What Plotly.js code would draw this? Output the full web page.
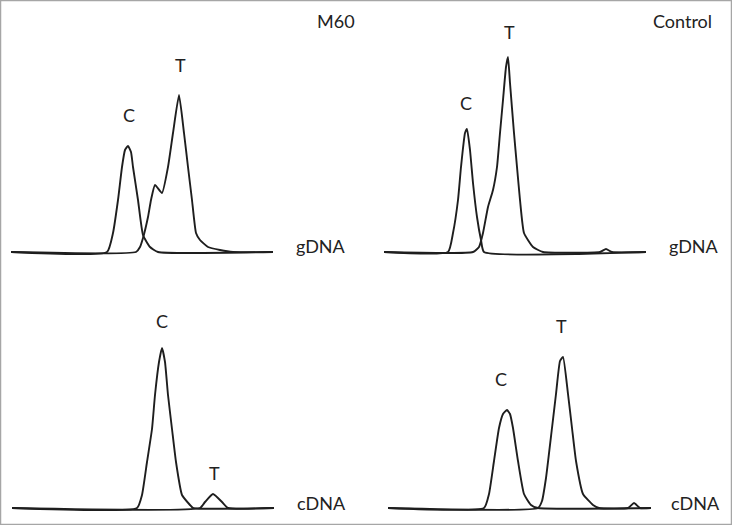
<!DOCTYPE html>
<html>
<head>
<meta charset="utf-8">
<script src="https://cdn.plot.ly/plotly-3.0.1.min.js"></script>
<style>html,body{margin:0;padding:0;background:#fff;}#chart{width:732px;height:525px;}</style>
</head>
<body>
<div id="chart"></div>
<script>
// Panel names and baseline labels
const panelNames = ["M60", "Control", "", ""];
const sampleLabels = ["gDNA", "gDNA", "cDNA", "cDNA"];
const peakLabels = ["C", "T"];

// Signal traces (retention position, intensity above baseline)
// Top-left: M60 gDNA
const m60g_C_x = [0, 96, 102, 107, 111, 114, 117, 120, 122, 127, 132, 139, 147, 262];
const m60g_C_y = [0, 0, 19, 52, 85, 102, 106, 100, 85, 52, 17, 5, 0, 0];
const m60g_T_x = [0, 125, 129, 132, 137, 140, 144, 151, 157, 162, 168, 173, 177, 181, 185, 189, 197, 209, 222, 262];
const m60g_T_y = [0, 0, 5, 14, 35, 52, 67, 59, 85, 119, 157, 119, 85, 52, 19, 12, 5, 2, 0, 0];
// Top-right: Control gDNA
const ctlg_C_x = [0, 64, 69, 74, 77, 81, 83, 86, 89, 93, 97, 100, 262];
const ctlg_C_y = [0, 0, 19, 52, 85, 119, 123, 102, 69, 35, 12, 0, 0];
const ctlg_T_x = [0, 89, 95, 99, 104, 109, 113, 116, 119, 122, 124, 126, 130, 133, 136, 140, 149, 159, 216, 222, 228, 262];
const ctlg_T_y = [0, 0, 5, 19, 45, 62, 85, 119, 152, 185, 195, 169, 119, 85, 52, 19, 5, 0, 0, 3, 0, 0];
// Bottom-left: M60 cDNA
const m60c_C_x = [0, 125, 130, 135, 140, 143, 147, 150, 153, 156, 160, 164, 170, 178, 181, 262];
const m60c_C_y = [0, 0, 13, 46, 79, 113, 146, 160, 146, 113, 79, 46, 13, 3, 0, 0];
const m60c_T_x = [0, 188, 193, 201, 210, 216, 262];
const m60c_T_y = [0, 0, 6, 14, 6, 0, 0];
// Bottom-right: Control cDNA
const ctlc_C_x = [0, 96, 101, 106, 111, 115, 119, 122, 125, 130, 136, 143, 150, 263];
const ctlc_C_y = [0, 0, 14, 47, 80, 94, 98, 94, 80, 47, 14, 3, 0, 0];
const ctlc_T_x = [0, 150, 154, 158, 164, 168, 172, 175, 180, 184, 188, 195, 205, 211, 240, 246, 252, 263];
const ctlc_T_y = [0, 0, 7, 30, 80, 114, 147, 151, 114, 80, 47, 14, 3, 0, 0, 5, 0, 0];

// Label anchor positions (axis units)
const peakLabelPos = [
  [[118, 137], [169, 187]],
  [[82, 149], [125, 220]],
  [[150, 187], [202, 35]],
  [[113, 129], [173, 182]]
];

const W = 732, H = 525;
// panel pixel geometry: left x, baseline y
const panels = [
  {x0: 11, base: 252},
  {x0: 384, base: 252},
  {x0: 12, base: 508},
  {x0: 388, base: 508}
];
const PW = 263, PH = 250, PAD = 6;

const lineStyle = {color: "#1e1e1e", width: 1.9};
const series = [
  [[m60g_C_x, m60g_C_y], [m60g_T_x, m60g_T_y]],
  [[ctlg_C_x, ctlg_C_y], [ctlg_T_x, ctlg_T_y]],
  [[m60c_C_x, m60c_C_y], [m60c_T_x, m60c_T_y]],
  [[ctlc_C_x, ctlc_C_y], [ctlc_T_x, ctlc_T_y]]
];

const traces = [];
const layout = {
  width: W, height: H,
  margin: {l: 0, r: 0, t: 0, b: 0},
  paper_bgcolor: "#fff", plot_bgcolor: "rgba(0,0,0,0)",
  showlegend: false,
  font: {family: "Lato, 'Open Sans', sans-serif", size: 18, color: "#222"},
  annotations: [],
  shapes: [{type: "rect", xref: "paper", yref: "paper", x0: 0, x1: 1, y0: 0, y1: 1,
            line: {color: "#a6a6a6", width: 2.5}}]
};

panels.forEach((p, i) => {
  const sfx = i === 0 ? "" : String(i + 1);
  series[i].forEach(s => {
    traces.push({x: s[0], y: s[1], type: "scatter", mode: "lines",
      line: Object.assign({shape: "spline", smoothing: 0.45}, lineStyle),
      xaxis: "x" + sfx, yaxis: "y" + sfx, hoverinfo: "skip"});
  });
  const ax = {domain: [p.x0 / W, (p.x0 + PW) / W], range: [0, PW], visible: false, fixedrange: true};
  const ay = {domain: [(H - p.base - PAD) / H, (H - p.base + PH) / H], range: [-PAD, PH], visible: false, fixedrange: true};
  ax.anchor = "y" + sfx; ay.anchor = "x" + sfx;
  layout["xaxis" + sfx] = ax;
  layout["yaxis" + sfx] = ay;
  peakLabels.forEach((lab, k) => {
    layout.annotations.push({text: lab, xref: "x" + sfx, yref: "y" + sfx,
      x: peakLabelPos[i][k][0], y: peakLabelPos[i][k][1], showarrow: false,
      xanchor: "center", yanchor: "middle"});
  });
});

// panel names and sample labels (paper positions)
const namePos = [[336, 21], [682, 21]];
namePos.forEach((np, i) => {
  layout.annotations.push({text: panelNames[i], xref: "paper", yref: "paper",
    x: np[0] / W, y: 1 - np[1] / H, showarrow: false, xanchor: "center", yanchor: "middle"});
});
const samplePos = [[321, 246], [694, 246], [321, 503], [695, 503]];
samplePos.forEach((sp, i) => {
  layout.annotations.push({text: sampleLabels[i], xref: "paper", yref: "paper",
    x: sp[0] / W, y: 1 - sp[1] / H, showarrow: false, xanchor: "center", yanchor: "middle"});
});

Plotly.newPlot("chart", traces, layout, {staticPlot: true, displayModeBar: false});
</script>
</body>
</html>
